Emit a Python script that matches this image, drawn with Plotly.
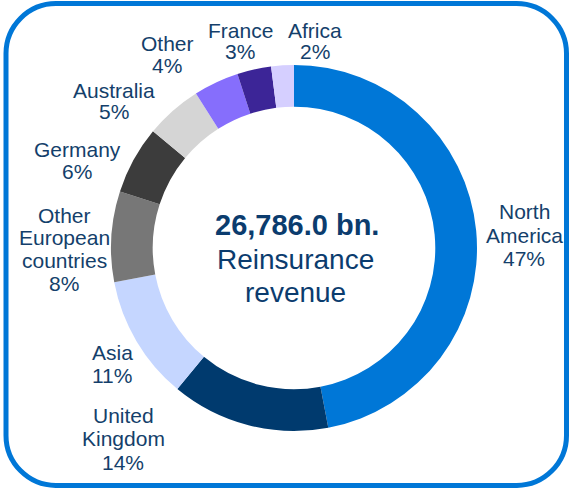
import plotly.graph_objects as go

regions = ["North America", "United Kingdom", "Asia", "Other European countries",
           "Germany", "Australia", "Other", "France", "Africa"]
shares = [47, 14, 11, 8, 6, 5, 4, 3, 2]
label_lines = [["North", "America", "47%"], ["United", "Kingdom", "14%"], ["Asia", "11%"],
               ["Other", "European", "countries", "8%"], ["Germany", "6%"],
               ["Australia", "5%"], ["Other", "4%"], ["France", "3%"], ["Africa", "2%"]]
total_value = "26,786.0 bn."
total_caption = ["Reinsurance", "revenue"]

colors = ["#0077D7", "#003A6E", "#C5D6FF", "#777777", "#3C3C3C", "#D5D5D5",
          "#866EFC", "#3C2597", "#D5CFFF"]

W, H = 571, 488
TEXT = "#143F6B"
FONT = "Liberation Sans, Arial, sans-serif"

def px(x):
    return x / W

def py(y):
    return 1 - y / H

cx, cy, r = 294, 248, 183

fig = go.Figure(go.Pie(
    labels=regions, values=shares, sort=False, direction="clockwise", rotation=0,
    hole=0.772, marker=dict(colors=colors, line=dict(width=0)),
    textinfo="none", hoverinfo="label+percent", showlegend=False,
    domain=dict(x=[px(cx - r), px(cx + r)], y=[py(cy + r), py(cy - r)]),
))

# label placement (centre x, first line y, line step) in pixels
label_pos = [(524, 212, 23), (123, 415, 23.5), (112, 352, 23), (64, 215, 22.7),
             (77, 150, 21.5), (114, 90, 21.5), (167, 43, 22), (240, 30, 21.5),
             (315, 30, 21.5)]
annotations = []
for lines, (lx, ly, step) in zip(label_lines, label_pos):
    for i, t in enumerate(lines):
        annotations.append(dict(x=px(lx), y=py(ly + step * i), xref="paper", yref="paper",
                                text=t, showarrow=False, xanchor="center", yanchor="middle",
                                font=dict(family=FONT, size=21, color=TEXT)))

annotations.append(dict(x=px(297), y=py(225), xref="paper", yref="paper",
                        text="<b>" + total_value + "</b>", showarrow=False,
                        xanchor="center", yanchor="middle",
                        font=dict(family=FONT, size=29, color="#0B3C6E")))
for i, t in enumerate(total_caption):
    annotations.append(dict(x=px(296), y=py(259 + 33 * i), xref="paper", yref="paper",
                            text=t, showarrow=False, xanchor="center", yanchor="middle",
                            font=dict(family=FONT, size=28, color="#0B3C6E")))

# rounded border
x0, x1, y0, y1, rad = 6, 566.5, 3.5, 485.5, 50
k = 0.5523 * rad
pts = [
    ("M", [(x0 + rad, y0)]),
    ("L", [(x1 - rad, y0)]),
    ("C", [(x1 - rad + k, y0), (x1, y0 + rad - k), (x1, y0 + rad)]),
    ("L", [(x1, y1 - rad)]),
    ("C", [(x1, y1 - rad + k), (x1 - rad + k, y1), (x1 - rad, y1)]),
    ("L", [(x0 + rad, y1)]),
    ("C", [(x0 + rad - k, y1), (x0, y1 - rad + k), (x0, y1 - rad)]),
    ("L", [(x0, y0 + rad)]),
    ("C", [(x0, y0 + rad - k), (x0 + rad - k, y0), (x0 + rad, y0)]),
]
path = ""
for cmd, ps in pts:
    path += cmd + " " + " ".join(f"{px(a):.5f},{py(b):.5f}" for a, b in ps) + " "
path += "Z"

fig.update_layout(
    width=W, height=H, margin=dict(l=0, r=0, t=0, b=0),
    paper_bgcolor="white", plot_bgcolor="white",
    annotations=annotations,
    shapes=[dict(type="path", path=path, xref="paper", yref="paper",
                 line=dict(color="#0077D7", width=5))],
)

fig.write_html("out.html", config={"displayModeBar": False},
               post_script="document.body.style.margin='0';document.body.style.padding='0';")
